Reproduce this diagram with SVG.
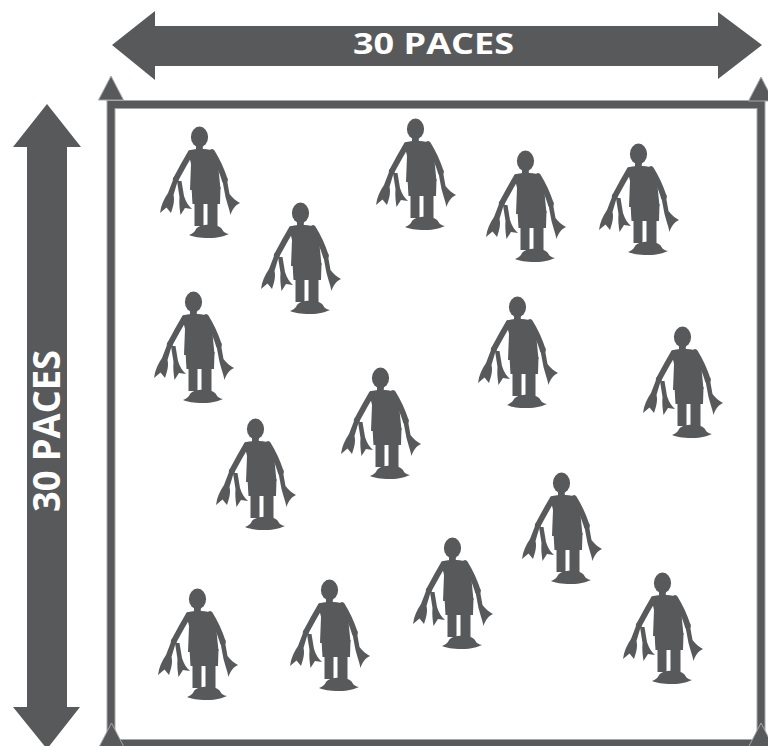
<svg xmlns="http://www.w3.org/2000/svg" xmlns:xlink="http://www.w3.org/1999/xlink" width="768" height="746" viewBox="0 0 768 746">
  <style>
    .ink { fill: #58595b; }
    .arm { fill: none; stroke: #58595b; stroke-width: 5.8; stroke-linecap: round; stroke-linejoin: round; }
    .edge { stroke: #a7a8aa; stroke-width: 1; }
    .label { font-family: "Open Sans", "Liberation Sans", sans-serif; font-weight: 700; fill: #ffffff; }
  </style>
  <defs>
    <!-- child figure holding ribbons, standing on a round base; base centre at (60,112) -->
    <g id="kid">
      <ellipse class="ink" cx="50.5" cy="18" rx="8.6" ry="10.4"/>
      <rect class="ink" x="47" y="24" width="6.8" height="8"/>
      <path class="ink" d="M39,32 C44,29.5 57,29.5 63,31.5 C66,34 68,39 69,45 L71.5,70 L41,71 L42,45 Z"/>
      <path class="arm" d="M41.5,34 Q35,45 27.5,59"/>
      <path class="arm" d="M63,33 Q71,46 75.5,60"/>
      <circle class="ink" cx="26.8" cy="60.5" r="3"/>
      <circle class="ink" cx="75.8" cy="61" r="3"/>
      <path class="ink" d="M42.5,68 L71.5,68 L71,85 L43.5,85 Z"/>
      <rect class="ink" x="45.5" y="83" width="9" height="24"/>
      <rect class="ink" x="58.5" y="83" width="10" height="24"/>
      <path class="ink" d="M40,116 Q45,114 46.5,111 C49,104 71,104 73.5,111 Q75,114 80,115 C75,117 70,119 60,119 C50,119 45,118 40,116 Z"/>
      <!-- ribbons -->
      <path class="ink" d="M24,61 L28.5,62.5 L24.5,76 C26,82 24,88 22,94 L17.5,88.5 L11,94 C12,86 15,80 19,74 Z"/>
      <path class="ink" d="M28,62 L32.5,62 L35,77 C37,83 39.5,87 43,90 L36,89 L31.5,96 C30.5,89 30,84 30.5,78 Z"/>
      <path class="ink" d="M73.5,62 L78,61 L80.5,75 C83.5,79 87,82 91,84 C86,86.5 83.5,90 81.5,96 C80,89 78,84 76.5,78 Z"/>
    </g>
  </defs>

  <!-- width arrow -->
  <g id="arrow-width">
    <polygon class="ink" points="112,45 155,11 155,26 718,26 718,12 762,45 718,79 718,66 155,66 155,80"/>
    <text class="label" x="433.5" y="53.5" font-size="29" text-anchor="middle" textLength="161" lengthAdjust="spacingAndGlyphs">30 PACES</text>
  </g>

  <!-- depth arrow -->
  <g id="arrow-depth">
    <polygon class="ink" points="47,104 81,147 67,147 67,707 80,707 47,749 13,707 27,707 27,147 13,147"/>
    <text class="label" transform="translate(60,431) rotate(-90)" font-size="37" text-anchor="middle" textLength="162" lengthAdjust="spacingAndGlyphs">30 PACES</text>
  </g>

  <!-- playing area -->
  <g id="field">
    <rect x="111" y="104.5" width="650" height="639" fill="none" stroke="#a7a8aa" stroke-width="9"/>
    <rect x="111" y="104.5" width="650" height="639" fill="none" stroke="#58595b" stroke-width="7"/>
    <polygon class="ink edge" points="111,76 123.5,100 98.5,100"/>
    <polygon class="ink edge" points="761,77 773.5,101 748.5,101"/>
    <polygon class="ink edge" points="111.5,723 124,747 99,747"/>
    <polygon class="ink edge" points="761,723 773.5,747 748.5,747"/>
  </g>

  <!-- figures -->
  <g id="kid-1"><use xlink:href="#kid" transform="translate(149,119)"/></g>
  <g id="kid-2"><use xlink:href="#kid" transform="translate(365,111)"/></g>
  <g id="kid-3"><use xlink:href="#kid" transform="translate(475,143)"/></g>
  <g id="kid-4"><use xlink:href="#kid" transform="translate(588,136)"/></g>
  <g id="kid-5"><use xlink:href="#kid" transform="translate(250,195)"/></g>
  <g id="kid-6"><use xlink:href="#kid" transform="translate(143,284)"/></g>
  <g id="kid-7"><use xlink:href="#kid" transform="translate(467,289)"/></g>
  <g id="kid-8"><use xlink:href="#kid" transform="translate(632,319)"/></g>
  <g id="kid-9"><use xlink:href="#kid" transform="translate(330,360)"/></g>
  <g id="kid-10"><use xlink:href="#kid" transform="translate(205,411)"/></g>
  <g id="kid-11"><use xlink:href="#kid" transform="translate(511,465)"/></g>
  <g id="kid-12"><use xlink:href="#kid" transform="translate(402,530)"/></g>
  <g id="kid-13"><use xlink:href="#kid" transform="translate(147,581)"/></g>
  <g id="kid-14"><use xlink:href="#kid" transform="translate(279,572)"/></g>
  <g id="kid-15"><use xlink:href="#kid" transform="translate(612,565)"/></g>
</svg>
